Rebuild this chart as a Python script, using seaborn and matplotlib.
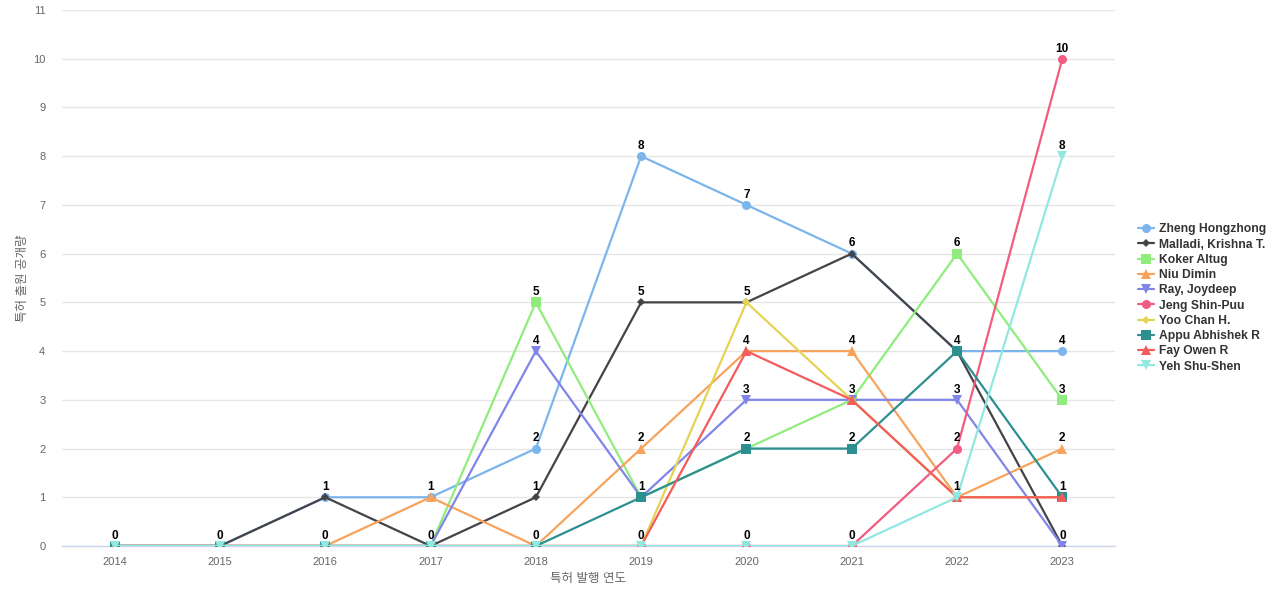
import matplotlib
matplotlib.use("Agg")
import matplotlib.pyplot as plt
import seaborn as sns
import pandas as pd
import numpy as np

years = [2014, 2015, 2016, 2017, 2018, 2019, 2020, 2021, 2022, 2023]
names = ["Zheng Hongzhong", "Malladi, Krishna T.", "Koker Altug", "Niu Dimin",
         "Ray, Joydeep", "Jeng Shin-Puu", "Yoo Chan H.", "Appu Abhishek R",
         "Fay Owen R", "Yeh Shu-Shen"]
zheng = [0, 0, 1, 1, 2, 8, 7, 6, 4, 4]
malladi = [0, 0, 1, 0, 1, 5, 5, 6, 4, 0]
koker = [0, 0, 0, 0, 5, 1, 2, 3, 6, 3]
niu = [0, 0, 0, 1, 0, 2, 4, 4, 1, 2]
ray = [0, 0, 0, 0, 4, 1, 3, 3, 3, 0]
jeng = [0, 0, 0, 0, 0, 0, 0, 0, 2, 10]
yoo = [0, 0, 0, 0, 0, 0, 5, 3, 1, 1]
appu = [0, 0, 0, 0, 0, 1, 2, 2, 4, 1]
fay = [0, 0, 0, 0, 0, 0, 4, 3, 1, 1]
yeh = [0, 0, 0, 0, 0, 0, 0, 0, 1, 8]
series = [zheng, malladi, koker, niu, ray, jeng, yoo, appu, fay, yeh]

colors = ["#7cb5ec", "#434348", "#90ed7d", "#f7a35c", "#8085e9",
          "#f15c80", "#e4d354", "#2b908f", "#f45b5b", "#91e8e1"]
marker_list = ["o", "D", "s", "^", "v", "o", "D", "s", "^", "v"]
x_title = "특허 발행 연도"
y_title = "특허 출원 공개량"

sns.set_theme(style="white")
plt.rcParams["font.family"] = ["Liberation Sans", "Noto Sans CJK KR", "DejaVu Sans"]

rows = []
for n, vals in zip(names, series):
    for yr, v in zip(years, vals):
        rows.append({"year": yr, "value": v, "name": n})
df = pd.DataFrame(rows)

fig = plt.figure(figsize=(12.8, 6), dpi=100)
ax = fig.add_axes([62 / 1280, 1 - 546 / 600, (1115 - 62) / 1280, (546 - 10) / 600])

palette = dict(zip(names, colors))
markers = dict(zip(names, marker_list))
sns.lineplot(data=df, x="year", y="value", hue="name", style="name",
             hue_order=names, style_order=names, palette=palette,
             markers=markers, dashes=False, linewidth=1.6, markersize=6.5,
             markeredgewidth=0, ax=ax, legend=True, zorder=3)
# smaller diamonds
for line in ax.get_lines():
    if line.get_marker() == "D":
        line.set_markersize(4.5)

# data labels, one per distinct value per year
for i, yr in enumerate(years):
    vals = sorted(set(s[i] for s in series))
    for v in vals:
        ax.annotate(str(v), (yr, v), xytext=(0, 3), textcoords="offset points",
                    ha="center", va="bottom", fontsize=8.5, fontweight="bold",
                    color="black", zorder=5)

ax.set_xlim(2013.5, 2023.5)
ax.set_ylim(0, 11)
ax.set_xticks(years)
ax.set_xticklabels([str(y) for y in years])
ax.set_yticks(range(0, 12))
ax.tick_params(axis="both", labelsize=8, colors="#666666", length=0)
ax.tick_params(axis="x", pad=8)
ax.tick_params(axis="y", pad=12)
ax.grid(axis="y", color="#e6e6e6", linewidth=1)
ax.grid(axis="x", visible=False)
for s in ["top", "right", "left"]:
    ax.spines[s].set_visible(False)
ax.spines["bottom"].set_color("#ccd6eb")
ax.spines["bottom"].set_linewidth(1)
ax.set_xlabel(x_title, fontsize=9, color="#666666", labelpad=4)
ax.set_ylabel(y_title, fontsize=9, color="#666666", labelpad=3)

handles, labels = ax.get_legend_handles_labels()
ax.get_legend().remove()
leg = fig.legend(handles, labels, loc="center left", bbox_to_anchor=(1132 / 1280, 1 - 298 / 600),
                 frameon=False, handlelength=1.3, handletextpad=0.45, labelspacing=0.27,
                 borderpad=0, prop={"size": 8.7, "weight": "bold"})
for t in leg.get_texts():
    t.set_color("#333333")

fig.savefig("out.png", dpi=100)
